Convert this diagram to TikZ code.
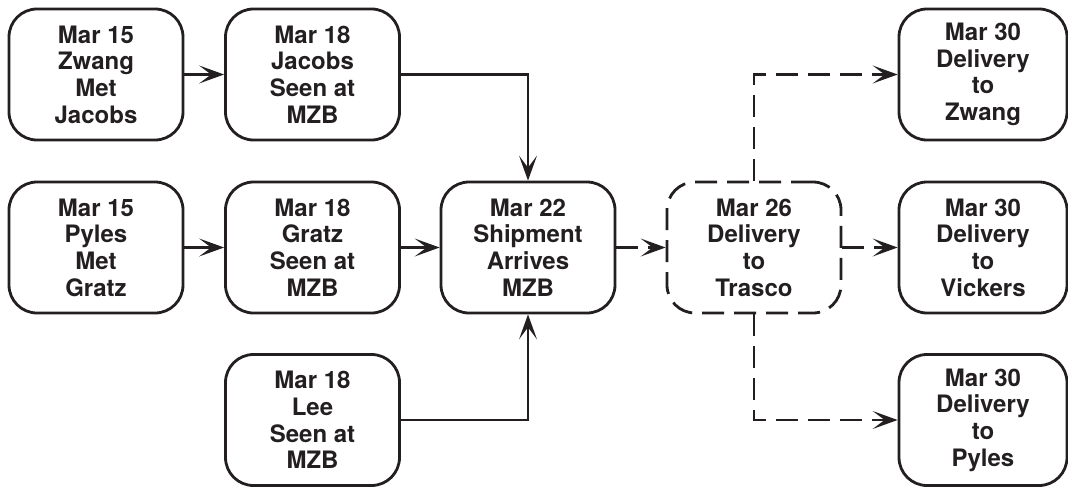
\documentclass[tikz,border=0pt]{standalone}
\usepackage{fontspec}
\setsansfont{TeX Gyre Heros}
\usepackage{tikz}
\usetikzlibrary{arrows.meta, positioning}
\definecolor{ink}{HTML}{231F20}
\tikzset{
  every node/.style={text=ink},
  event/.style={draw=ink, line width=2.8pt, rounded corners=28pt,
    minimum width=174pt, minimum height=131pt, align=center,
    font=\sffamily\bfseries\fontsize{24}{26.7}\selectfont},
  lastevent/.style={event, minimum width=168pt},
  link/.style={-{Stealth[length=25pt,width=18pt,inset=12pt,line width=0pt]},
    draw=ink, line width=2.8pt},
  maybe/.style={link, dash pattern=on 22pt off 10pt},
}

\begin{document}
\begin{tikzpicture}
      \useasboundingbox (0,0) rectangle (1068pt,-487pt);

      \node[event] (zm) at (96pt,-74.5pt)                {Mar 15\\Zwang\\Met\\Jacobs};
      \node[event,right of=zm,node distance=216.5pt] (js) {Mar 18\\Jacobs\\Seen at\\MZB};
      \node[event,below of=zm,node distance=173pt]   (pm) {Mar 15\\Pyles\\Met\\Gratz};
      \node[event,right of=pm,node distance=216.5pt] (gs) {Mar 18\\Gratz\\Seen at\\MZB};
      \node[event,below of=gs,node distance=172.5pt] (ls) {Mar 18\\Lee\\Seen at\\MZB};
      \node[event,right of=gs,node distance=215.5pt] (sa) {Mar 22\\Shipment\\Arrives\\MZB};
      \node[event,dash pattern=on 22pt off 10pt,right of=sa,node distance=226pt] (dt) {Mar 26\\Delivery\\to\\Trasco};
      \node[lastevent,right of=dt,node distance=229pt] (dv) {Mar 30\\Delivery\\to\\Vickers};
      \node[lastevent,above of=dv,node distance=173pt] (dz) {Mar 30\\Delivery\\to\\Zwang};
      \node[lastevent,below of=dv,node distance=172.5pt] (dp) {Mar 30\\Delivery\\to\\Pyles};

      \draw[link]  (zm) -- (js);
      \draw[link]  (pm) -- (gs);
      \draw[link]  (gs) -- (sa);
      \draw[link]  (js) -| (sa);
      \draw[link]  (ls) -| (sa);
      \draw[maybe] (sa) -- (dt);
      \draw[maybe] (dt) -- (dv);
      \draw[maybe] (dt) |- (dz);
      \draw[maybe] (dt) |- (dp);
    \end{tikzpicture}
\end{document}
